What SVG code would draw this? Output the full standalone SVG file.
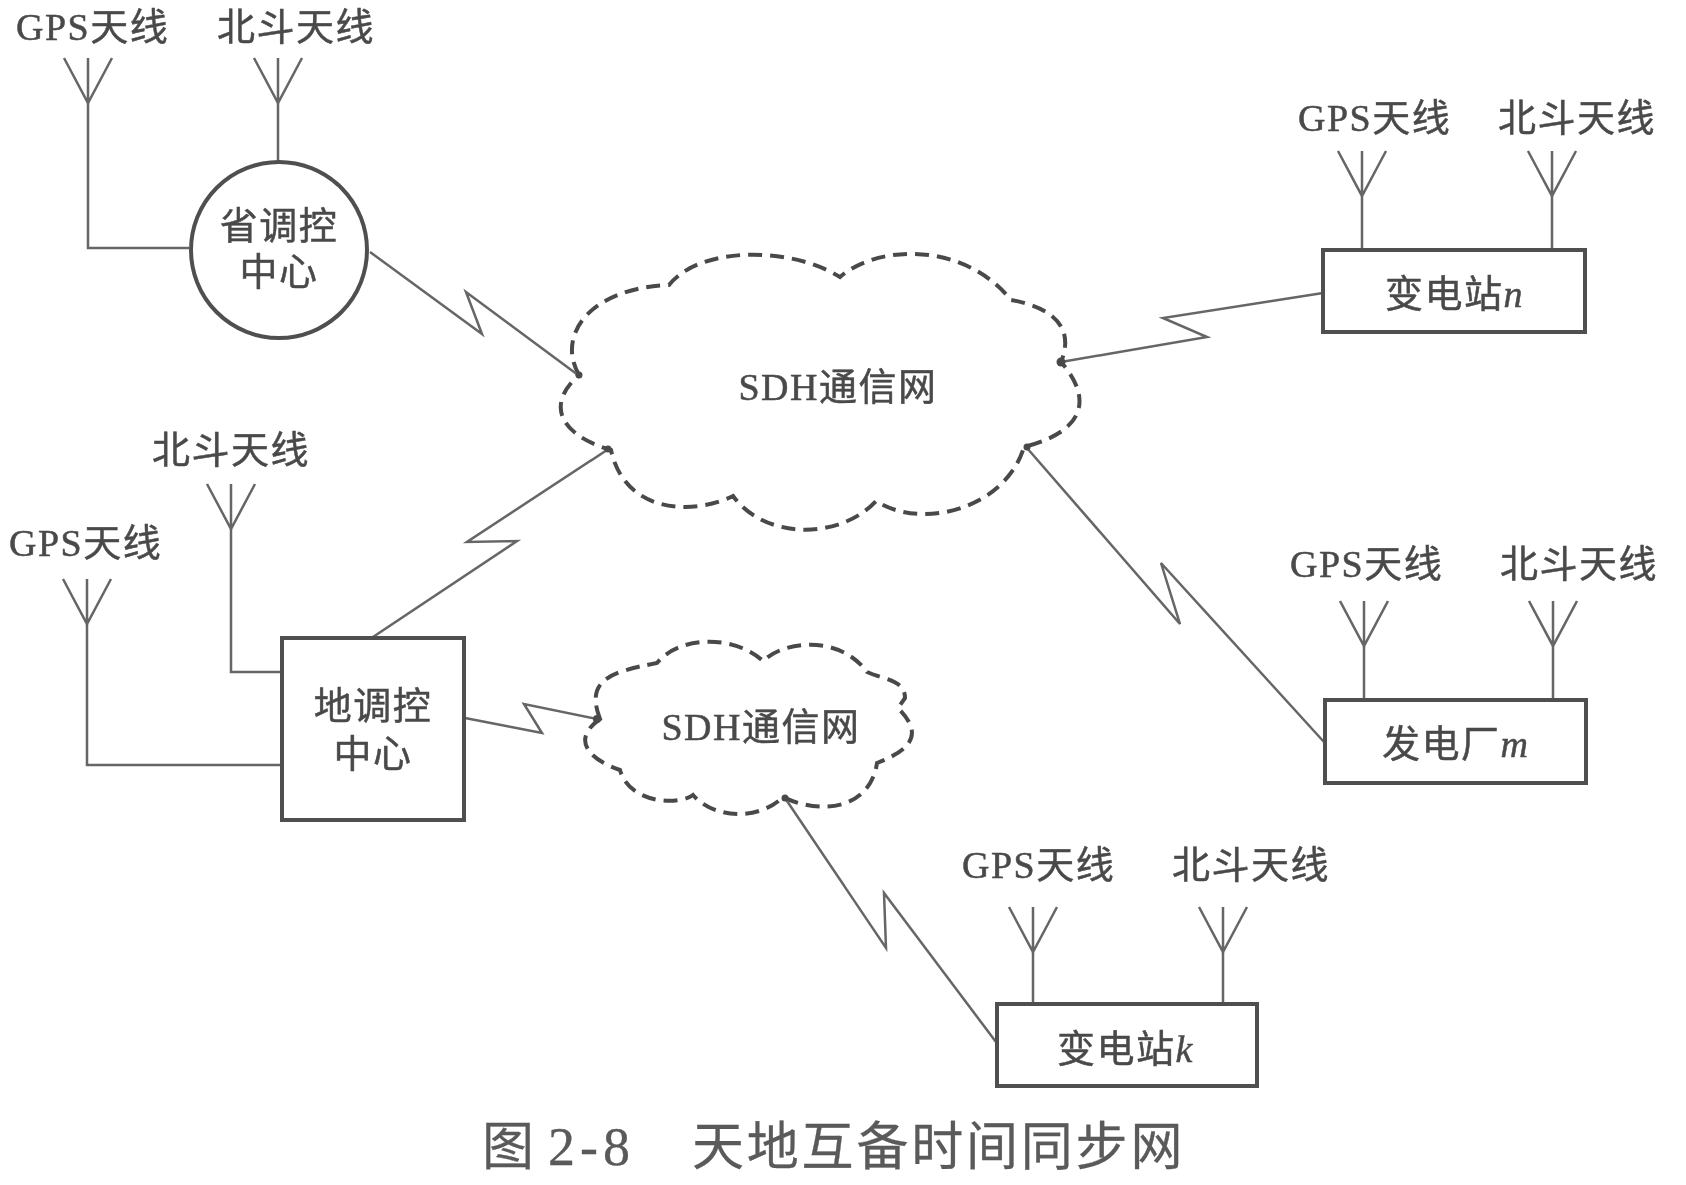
<svg xmlns="http://www.w3.org/2000/svg" width="1686" height="1185" viewBox="0 0 1686 1185">
<style>
text{font-family:"Liberation Serif","Noto Sans CJK SC",serif;fill:#4a4a4a;stroke:#4a4a4a;stroke-width:.5px}
.l{font-size:38px;letter-spacing:1.5px}
.n{font-size:38px;letter-spacing:1.5px}
.m{text-anchor:middle}
.i{font-style:italic}
.t{font-size:52px;letter-spacing:2.8px;fill:#5a5a5a;stroke:#5a5a5a;stroke-width:.3px}
.line{fill:none;stroke:#666;stroke-width:2.5;stroke-linejoin:miter}
.ant{fill:none;stroke:#666;stroke-width:2.5}
.box{fill:#fff;stroke:#505050;stroke-width:4}
.cloud{fill:#fff;stroke:#4a4a4a;stroke-width:4;stroke-dasharray:14 8}
.dot{fill:#4a4a4a}
</style>
<defs>
<path id="a" class="ant" d="M-24-45L0 0L24-45M0-45V0"/>
<filter id="b" x="0" y="0" width="100%" height="100%"><feGaussianBlur stdDeviation="0.6"/></filter>
</defs>
<rect width="1686" height="1185" fill="#fff"/>
<g filter="url(#b)">
<g id="cloud-main">
<path class="cloud" d="M579 375C556 335 590 288 669 285C700 246 790 246 840 277C880 243 965 243 1011 300C1040 305 1078 320 1061 362C1090 395 1090 430 1024 447C1005 510 920 530 876 501C840 540 765 540 733 496C695 515 625 515 611 450C560 435 545 405 579 375Z"/>
<text class="n m" x="838" y="400">SDH通信网</text>
</g>
<g id="cloud-small">
<path class="cloud" d="M600 719C585 680 610 672 657 663C680 635 735 635 763 661C785 640 840 635 867 672C885 680 905 680 905 698L898 708C925 735 910 750 877 763C870 810 820 815 783 797C760 820 715 820 693 795C680 805 630 805 620 770C590 760 570 740 600 719Z"/>
<text class="n m" x="761" y="740">SDH通信网</text>
</g>
<g id="connectors">
<path class="line" d="M88 103V248H189"/>
<path class="line" d="M278 103V163"/>
<path class="line" d="M231 529V672H282"/>
<path class="line" d="M87 624V765H282"/>
<path class="line" d="M1362 196V250M1552 196V250"/>
<path class="line" d="M1364 646V700M1553 646V700"/>
<path class="line" d="M1033 952V1004M1223 952V1004"/>
<path class="line" d="M370 252L482 334L466 292L578 375"/>
<path class="line" d="M373 637L517 541L467 542L607 450"/>
<path class="line" d="M1061 362L1207 337L1163 318L1323 293"/>
<path class="line" d="M1027 448L1180 624L1161 563L1324 742"/>
<path class="line" d="M465 718L542 733L524 704L597 719"/>
<path class="line" d="M785 798L886 948L884 893L996 1042"/>
<circle class="dot" cx="579" cy="375" r="3.5"/>
<circle class="dot" cx="608" cy="449" r="3.5"/>
<circle class="dot" cx="1061" cy="362" r="4.5"/>
<circle class="dot" cx="1027" cy="447" r="3.5"/>
<circle class="dot" cx="597" cy="719" r="4"/>
<circle class="dot" cx="785" cy="798" r="3.5"/>
</g>
<g id="province-center">
<circle class="box" cx="279" cy="250" r="88"/>
<text class="n m" x="279" y="239">省调控</text>
<text class="n m" x="279" y="285">中心</text>
<use href="#a" x="88" y="103"/><use href="#a" x="278" y="103"/>
<text class="l" x="16" y="40">GPS天线</text>
<text class="l" x="217" y="40">北斗天线</text>
</g>
<g id="prefecture-center">
<rect class="box" x="282" y="638" width="182" height="182"/>
<text class="n m" x="373" y="719">地调控</text>
<text class="n m" x="373" y="767">中心</text>
<use href="#a" x="231" y="529"/><use href="#a" x="87" y="624"/>
<text class="l" x="152" y="463">北斗天线</text>
<text class="l" x="9" y="556">GPS天线</text>
</g>
<g id="substation-n">
<rect class="box" x="1323" y="250" width="262" height="82"/>
<text class="n" x="1385" y="307">变电站<tspan class="i">n</tspan></text>
<use href="#a" x="1362" y="196"/><use href="#a" x="1552" y="196"/>
<text class="l" x="1298" y="131">GPS天线</text>
<text class="l" x="1498" y="131">北斗天线</text>
</g>
<g id="plant-m">
<rect class="box" x="1325" y="700" width="261" height="83"/>
<text class="n" x="1382" y="757">发电厂<tspan class="i">m</tspan></text>
<use href="#a" x="1364" y="646"/><use href="#a" x="1553" y="646"/>
<text class="l" x="1290" y="577">GPS天线</text>
<text class="l" x="1500" y="577">北斗天线</text>
</g>
<g id="substation-k">
<rect class="box" x="997" y="1004" width="260" height="82"/>
<text class="n" x="1057" y="1062">变电站<tspan class="i">k</tspan></text>
<use href="#a" x="1033" y="952"/><use href="#a" x="1223" y="952"/>
<text class="l" x="962" y="878">GPS天线</text>
<text class="l" x="1172" y="878">北斗天线</text>
</g>
<text id="title" class="t" y="1165"><tspan x="482">图</tspan><tspan x="548" style="letter-spacing:5px;font-size:54px">2-8</tspan><tspan x="692">天地互备时间同步网</tspan></text>
</g>
</svg>
